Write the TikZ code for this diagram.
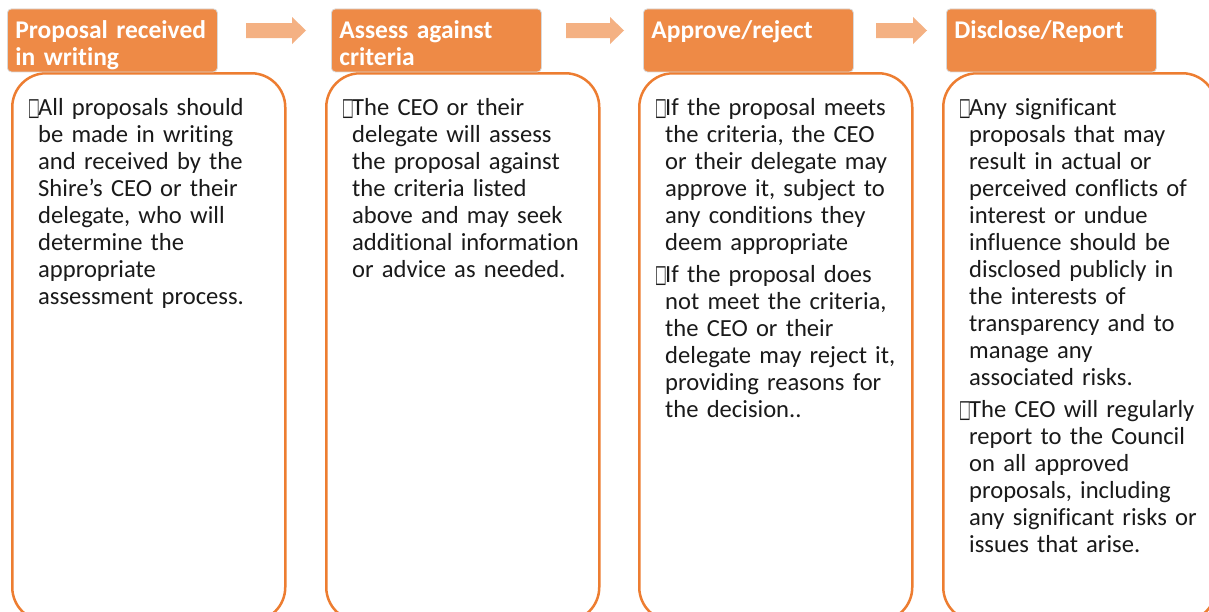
\documentclass[tikz,border=0pt]{standalone}
\usepackage{fontspec}
\usepackage{graphicx}
\setmainfont{Carlito}[Ligatures={NoCommon}]
\newfontfamily\boxfont{DejaVu Sans}

\definecolor{headfill}{HTML}{EE8A46}
\definecolor{headline}{HTML}{D9D9D9}
\definecolor{boxline}{HTML}{ED7D31}
\definecolor{flowfill}{HTML}{F4B183}
\definecolor{bodytext}{HTML}{1A1A1A}

% one bullet paragraph, hanging under the box glyph
\newcommand{\bitem}{\par\setlength{\parskip}{5pt}\hangindent=10pt\hangafter=1\noindent
  \makebox[10pt][l]{\scalebox{0.5}[1]{\boxfont\char"25A1}}}

\begin{document}
\begin{tikzpicture}[x=1pt, y=-1pt]
        \tikzstyle{head}=[draw=headline, line width=0.8pt, fill=headfill, rounded corners=4pt,
                anchor=north west, text=white, font=\bfseries\fontsize{25.5}{27}\selectfont,
                align=left, text width=194pt, inner xsep=8pt, inner ysep=7.5pt,
                text height=22.5pt, text depth=25.5pt]
        \tikzstyle{stage}=[draw=boxline, line width=2.5pt, fill=white, rounded corners=34pt,
                anchor=north west, minimum width=273pt, minimum height=548pt, inner sep=0pt]
        \tikzstyle{body}=[anchor=north west, text width=260pt, inner sep=0pt, align=left,
                text=bodytext, font=\fontsize{24.6}{27}\selectfont]
        \tikzstyle{flow}=[fill=flowfill]

        \useasboundingbox (0,0) rectangle (1209,611);
        \clip (0,0) rectangle (1209,611);
        \fill[white] (0,0) rectangle (1209,611);

        % stage frames
        \node[stage](s1) at (11,72){};
        \node[stage](s2) at (325,72){};
        \node[stage](s3) at (638,72){};
        \node[stage](s4) at (942,72){};

        % stage titles
        \node[head](h1) at (7,8.5){Proposal received\\in writing};
        \node[head](h2) at (331,8.5){Assess against\\criteria};
        \node[head](h3) at (643,8.5){Approve/reject};
        \node[head](h4) at (946,8.5){Disclose/Report};

        % arrows between the titles
        \foreach \x/\l in {246/46, 566/44, 876/37}
                \fill[flow] (\x,23) -- ++(\l,0) -- ++(0,-6) -- ++(14,13.5) -- ++(-14,13.5)
                        -- ++(0,-6) -- ++(-\l,0) -- cycle;

        \node[body](t1) at (28,83){\bitem All proposals should\newline
                be made in writing\newline
                and received by the\newline
                Shire's CEO or their\newline
                delegate, who will\newline
                determine the\newline
                appropriate\newline
                assessment process.\par};
        \node[body](t2) at (342,83){\bitem The CEO or their\newline
                delegate will assess\newline
                the proposal against\newline
                the criteria listed\newline
                above and may seek\newline
                additional information\newline
                or advice as needed.\par};
        \node[body](t3) at (655,83){\bitem If the proposal meets\newline
                the criteria, the CEO\newline
                or their delegate may\newline
                approve it, subject to\newline
                any conditions they\newline
                deem appropriate
                \bitem If the proposal does\newline
                not meet the criteria,\newline
                the CEO or their\newline
                delegate may reject it,\newline
                providing reasons for\newline
                the decision..\par};
        \node[body](t4) at (959,83){\bitem Any significant\newline
                proposals that may\newline
                result in actual or\newline
                perceived conflicts of\newline
                interest or undue\newline
                influence should be\newline
                disclosed publicly in\newline
                the interests of\newline
                transparency and to\newline
                manage any\newline
                associated risks.
                \bitem The CEO will regularly\newline
                report to the Council\newline
                on all approved\newline
                proposals, including\newline
                any significant risks or\newline
                issues that arise.\par};

\end{tikzpicture}
\end{document}
